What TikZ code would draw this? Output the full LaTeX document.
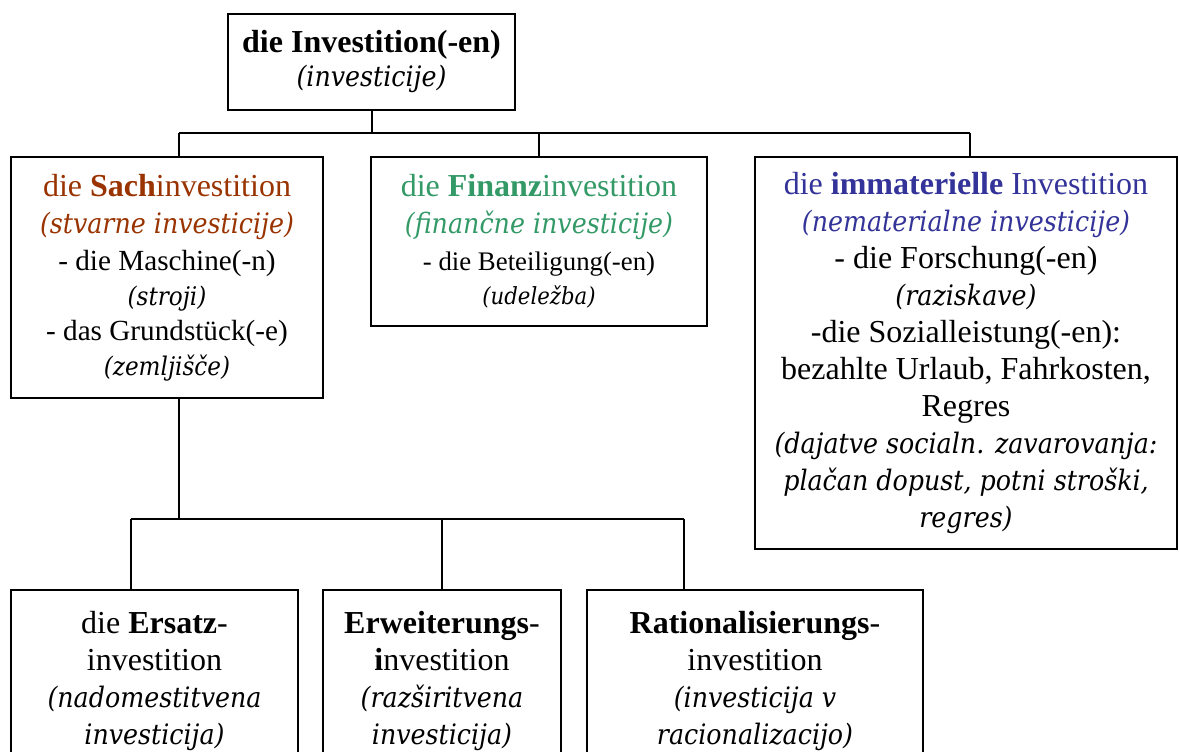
\documentclass[tikz,border=0pt]{standalone}
\usepackage{fontspec}
\setmainfont{Liberation Serif}[ItalicFont={DejaVu Serif Condensed Italic},ItalicFeatures={Scale=0.88}]
\usetikzlibrary{positioning}
\definecolor{sachbraun}{HTML}{993300}
\definecolor{finanzgruen}{HTML}{339966}
\definecolor{immblau}{HTML}{333399}
\newcommand{\gross}{\fontsize{16}{18.5}\selectfont}
\newcommand{\mittel}{\fontsize{14.6}{16.5}\selectfont}
\newcommand{\klein}{\fontsize{13.4}{16}\selectfont}
\begin{document}
\begin{tikzpicture}[x=0.5pt,y=-0.5pt,line width=1pt,
    box/.style={draw,align=center,inner sep=0pt,font=\gross},
    unten/.style={box,minimum height=91.5pt}]
\useasboundingbox (0,0) rectangle (1179,751);
\clip (0,0) rectangle (1179,751);
% oben
\node[box,minimum width=143.5pt,minimum height=48pt] (inv) at (371.5,62)
    {\textbf{die Investition(-en)}\\[-1.5pt]\textit{(investicije)}};
% zweite Ebene
\node[box,minimum width=156pt,minimum height=120.5pt] (sach) at (167,277.5)
    {\textcolor{sachbraun}{die \textbf{Sach}investition}\\
     \textcolor{sachbraun}{\textit{(stvarne investicije)}}\\
     {\mittel - die Maschine(-n)}\\[-1pt]{\mittel\textit{(stroji)}}\\[-1pt]
     {\mittel - das Grundstück(-e)}\\[-1pt]{\mittel\textit{(zemljišče)}}};
\node[box,minimum width=168pt,minimum height=84.5pt] (fin) at (539,241.5)
    {\textcolor{finanzgruen}{die \textbf{Finanz}investition}\\
     \textcolor{finanzgruen}{\textit{(finančne investicije)}}\\
     {\klein - die Beteiligung(-en)}\\[-1.5pt]{\klein\textit{(udeležba)}}};
\node[box,minimum width=211pt,minimum height=196pt] (imm) at (966,353)
    {\textcolor{immblau}{die \textbf{immaterielle} Investition}\\
     \textcolor{immblau}{\textit{(nematerialne investicije)}}\\
     - die Forschung(-en)\\\textit{(raziskave)}\\
     -die Sozialleistung(-en):\\bezahlte Urlaub, Fahrkosten,\\Regres\\
     \textit{(dajatve socialn. zavarovanja:}\\
     \textit{plačan dopust, potni stroški,}\\\textit{regres)}};
% dritte Ebene
\node[unten,minimum width=143.5pt] (ers) at (154.5,681.5)
    {die \textbf{Ersatz}-\\investition\\\textit{(nadomestitvena}\\\textit{investicija)}};
\node[unten,minimum width=119pt] (erw) at (442,681.5)
    {\textbf{Erweiterungs}-\\\textbf{i}nvestition\\\textit{(razširitvena}\\\textit{investicija)}};
\node[unten,minimum width=168pt] (rat) at (755,681.5)
    {\textbf{Rationalisierungs}-\\investition\\\textit{(investicija v}\\\textit{racionalizacijo)}};
% Verbindungen
\coordinate (bl) at (179,133);
\coordinate (br) at (970,133);
\coordinate (ul) at (131,519);
\coordinate (ur) at (684,519);
\draw (inv.south) -- (inv.south |- bl);
\draw (bl) -- (br);
\draw (bl) -- (bl |- sach.north);
\draw (fin.north |- bl) -- (fin.north);
\draw (br) -- (br |- imm.north);
\draw (bl |- sach.south) -- (bl |- ul);
\draw (ul) -- (ur);
\draw (ul) -- (ul |- ers.north);
\draw (erw.north |- ul) -- (erw.north);
\draw (ur) -- (ur |- rat.north);
\end{tikzpicture}
\end{document}
